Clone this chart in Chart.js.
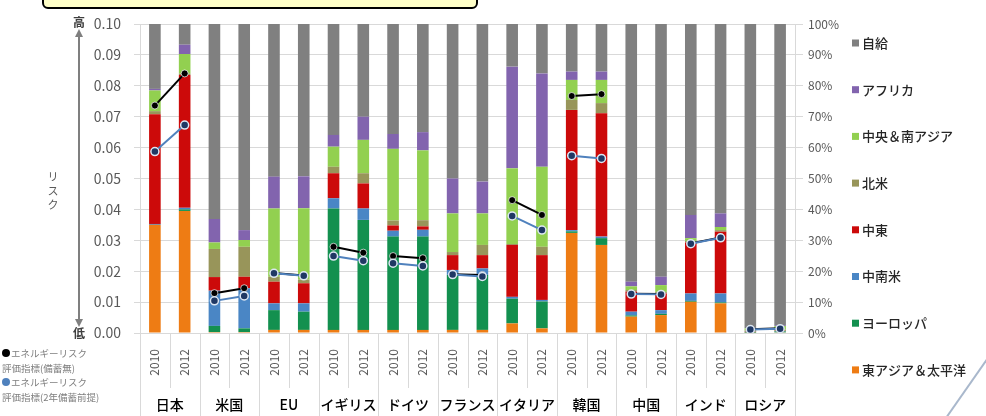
<!DOCTYPE html>
<html lang="ja">
<head>
<meta charset="utf-8">
<title>エネルギーリスク評価指標と輸入先構成</title>
<script src="https://cdn.jsdelivr.net/npm/chart.js@4.4.1/dist/chart.umd.min.js"></script>
<style>
  html, body { margin: 0; padding: 0; background: #fff; }
</style>
</head>
<body>
<canvas id="chart" width="986" height="416"></canvas>
<script>
// one column per country / year
var years     = ['2010', '2012', '2010', '2012', '2010', '2012', '2010', '2012', '2010', '2012', '2010', '2012',
                 '2010', '2012', '2010', '2012', '2010', '2012', '2010', '2012', '2010', '2012']
var countries = ['日本', '米国', 'EU', 'イギリス', 'ドイツ', 'フランス', 'イタリア', '韓国', '中国', 'インド', 'ロシア']

// supply composition, % (right axis), bottom to top
var eastAsia   = [35, 39.5, 0.3, 0.3, 1, 1, 1, 1, 1, 1, 1, 1, 3.1, 1.5, 32.4, 28.5, 5.3, 5.8, 10.1, 9.6, 0.1, 0.2]
var europe     = [0, 0.5, 2, 1.2, 6.4, 5.9, 39.3, 35.6, 30.2, 30.2, 17.8, 17.8, 8, 8.7, 0.5, 2.2, 0.4, 0.4, 0.3, 0.3, 0.2, 0.3]
var latinAm    = [0.3, 0.5, 11.4, 13, 2.2, 2.7, 3.3, 3.7, 1.9, 2.2, 1.6, 2.1, 0.6, 0.5, 0.4, 0.5, 1.2, 1.2, 2.4, 2.9, 0.1, 0.1]
var middleEast = [35.5, 43, 4.4, 3.7, 7, 6.5, 8.1, 8.1, 1.7, 1.1, 4.8, 4.3, 16.8, 14.5, 38.9, 39.9, 6.5, 5.4, 16.5, 20, 0.1, 0.1]
var northAm    = [1, 0.5, 9.1, 9.7, 1.6, 1.2, 2.1, 3.3, 1.6, 2, 1, 3.3, 0.3, 2.7, 3.2, 3.3, 0.5, 0.5, 0.5, 0.5, 0.3, 0.4]
var csAsia     = [6.7, 6.3, 2.1, 2.2, 22.1, 23.1, 6.5, 10.8, 23.2, 22.6, 12.5, 10.2, 24.5, 25.9, 6.5, 7.5, 1.2, 2.2, 0.9, 1, 0.7, 1.2]
var africa     = [0.5, 3, 7.6, 3.2, 10.3, 10.3, 3.8, 7.5, 4.8, 5.9, 11.3, 10.3, 32.9, 30.2, 2.7, 2.7, 1.5, 2.7, 7.5, 4.4, 0.1, 0.3]
var selfSupply = [21, 6.7, 63.1, 66.7, 49.4, 49.3, 35.9, 30, 35.6, 35, 50, 51, 13.8, 16, 15.4, 15.4, 83.4, 81.8, 61.8, 61.3, 98.4, 97.4]

// energy risk index (left axis)
var riskNoStock  = [0.0736, 0.0840, 0.0129, 0.0145, 0.0194, 0.0186, 0.0279, 0.0260, 0.0249, 0.0242, 0.0190, 0.0188,
                    0.0430, 0.0382, 0.0767, 0.0773, 0.0127, 0.0126, 0.0290, 0.0309, 0.0012, 0.0015]
var riskTwoYears = [0.0587, 0.0673, 0.0104, 0.0120, 0.0193, 0.0185, 0.0249, 0.0234, 0.0226, 0.0217, 0.0189, 0.0183,
                    0.0379, 0.0333, 0.0574, 0.0565, 0.0126, 0.0125, 0.0289, 0.0308, 0.0011, 0.0014]

var FONT = "'Noto Sans CJK JP', 'Noto Sans', sans-serif"
var GRID = '#d9d9d9'
var TICK = '#595959'

Chart.defaults.font.family = FONT

var regions = [
  { label: '東アジア＆太平洋', data: eastAsia,   color: '#ee7c14' },
  { label: 'ヨーロッパ',       data: europe,     color: '#13904f' },
  { label: '中南米',           data: latinAm,    color: '#4a86c5' },
  { label: '中東',             data: middleEast, color: '#cc0a0a' },
  { label: '北米',             data: northAm,    color: '#98955a' },
  { label: '中央＆南アジア',   data: csAsia,     color: '#92d050' },
  { label: 'アフリカ',         data: africa,     color: '#8264ae' },
  { label: '自給',             data: selfSupply, color: '#808080' }
]

// connect only the two years of the same country
function pairColor(color) {
  return function (ctx) { return ctx.p0DataIndex % 2 ? 'rgba(0,0,0,0)' : color }
}

var datasets = [
  {
    type: 'line', label: 'エネルギーリスク評価指標(2年備蓄前提)', data: riskTwoYears, yAxisID: 'y', order: 0,
    borderColor: '#4f81bd', borderWidth: 2, segment: { borderColor: pairColor('#4f81bd') },
    pointRadius: 4, pointBackgroundColor: '#1f3864', pointBorderColor: '#dce6f2', pointBorderWidth: 1.5
  },
  {
    type: 'line', label: 'エネルギーリスク評価指標(備蓄無)', data: riskNoStock, yAxisID: 'y', order: 1,
    borderColor: '#000', borderWidth: 2, segment: { borderColor: pairColor('#000') },
    pointRadius: 3.5, pointBackgroundColor: '#000', pointBorderColor: 'rgba(255,255,255,0.7)', pointBorderWidth: 1
  }
].concat(regions.map(function (r) {
  return {
    type: 'bar', label: r.label, data: r.data, yAxisID: 'y2', order: 2,
    backgroundColor: r.color, borderWidth: 0, barPercentage: 0.39, categoryPercentage: 1
  }
}))

var decorations = {
  id: 'decorations',
  afterDraw: function (chart) {
    var ctx = chart.ctx
    var area = chart.chartArea
    var w = (area.right - area.left) / years.length
    ctx.save()

    // category separators under the axis
    ctx.strokeStyle = GRID
    ctx.lineWidth = 1
    for (var i = 0; i <= years.length; i++) {
      var sx = Math.round(area.left + i * w) + 0.5
      ctx.beginPath()
      ctx.moveTo(sx, area.bottom)
      ctx.lineTo(sx, i % 2 ? 388 : 416)
      ctx.stroke()
    }

    // country names
    ctx.fillStyle = '#000'
    ctx.font = '500 14px ' + FONT
    ctx.textAlign = 'center'
    ctx.textBaseline = 'middle'
    countries.forEach(function (c, k) {
      ctx.fillText(c, area.left + (2 * k + 1) * w, 405)
    })

    // risk scale annotation
    ctx.fillStyle = '#404040'
    ctx.font = 'bold 12px ' + FONT
    ctx.fillText('高', 79, 22)
    ctx.fillText('低', 79, 333)
    ctx.strokeStyle = '#7f7f7f'
    ctx.lineWidth = 2
    ctx.beginPath()
    ctx.moveTo(79, 34)
    ctx.lineTo(79, 322)
    ctx.stroke()
    ctx.fillStyle = '#7f7f7f'
    ctx.beginPath()
    ctx.moveTo(79, 29); ctx.lineTo(75, 37); ctx.lineTo(83, 37); ctx.closePath()
    ctx.moveTo(79, 327); ctx.lineTo(75, 319); ctx.lineTo(83, 319); ctx.closePath()
    ctx.fill()
    ctx.fillStyle = TICK
    ctx.font = '11px ' + FONT
    ;['リ', 'ス', 'ク'].forEach(function (ch, k) { ctx.fillText(ch, 53, 177 + k * 14) })

    // line legend, bottom left
    ctx.font = '9.5px ' + FONT
    ctx.textAlign = 'left'
    var lineKeys = [
      { dot: '#000',    a: 'エネルギーリスク', b: '評価指標(備蓄無)', y: 353 },
      { dot: '#4f81bd', a: 'エネルギーリスク', b: '評価指標(2年備蓄前提)', y: 382 }
    ]
    lineKeys.forEach(function (k) {
      ctx.fillStyle = k.dot
      ctx.beginPath()
      ctx.arc(6, k.y, 4, 0, Math.PI * 2)
      ctx.fill()
      ctx.fillStyle = '#7f7f7f'
      ctx.fillText(k.a, 11, k.y)
      ctx.fillText(k.b, 2, k.y + 15)
    })

    // region legend, right
    ctx.font = '500 13px ' + FONT
    regions.slice().reverse().forEach(function (r, k) {
      var ly = 43 + k * 46.7
      ctx.fillStyle = r.color
      ctx.fillRect(852, ly - 3.5, 7, 7)
      ctx.fillStyle = '#262626'
      ctx.fillText(r.label, 862, ly)
    })

    // title box cut off at the top
    ctx.fillStyle = '#ffffc8'
    ctx.strokeStyle = '#000'
    ctx.lineWidth = 2
    ctx.beginPath()
    ctx.roundRect(43, -12, 434, 20, 5)
    ctx.fill()
    ctx.stroke()

    // stray shape corner, bottom right
    ctx.strokeStyle = '#a9b8cc'
    ctx.lineWidth = 2
    ctx.beginPath()
    ctx.moveTo(988, 358)
    ctx.lineTo(946, 418)
    ctx.stroke()

    ctx.restore()
  }
}

new Chart(document.getElementById('chart'), {
  type: 'bar',
  data: { labels: years, datasets: datasets },
  plugins: [decorations],
  options: {
    responsive: false,
    animation: false,
    layout: { padding: { top: 24, left: 0, right: 0, bottom: 0 } },
    plugins: {
      legend: { display: false },
      tooltip: { enabled: false }
    },
    scales: {
      x: {
        stacked: true,
        grid: { display: false, drawTicks: false },
        border: { display: false },
        ticks: { minRotation: 90, maxRotation: 90, padding: 16, color: TICK, font: { size: 12 } },
        afterFit: function (s) { s.height = 83 }
      },
      y: {
        position: 'left',
        min: 0, max: 0.1,
        grid: { color: GRID, tickLength: 6 },
        border: { color: GRID },
        ticks: {
          stepSize: 0.01, padding: 13, color: TICK, font: { size: 14 },
          callback: function (v) { return v.toFixed(2) }
        },
        afterFit: function (s) { s.width = 140 }
      },
      y2: {
        position: 'right',
        stacked: true,
        min: 0, max: 100,
        grid: { drawOnChartArea: false, color: GRID, tickLength: 8 },
        border: { color: GRID },
        ticks: {
          stepSize: 10, padding: 5, color: TICK, font: { size: 12 },
          callback: function (v) { return v + '%' }
        },
        afterFit: function (s) { s.width = 191 }
      }
    }
  }
})
</script>
</body>
</html>
